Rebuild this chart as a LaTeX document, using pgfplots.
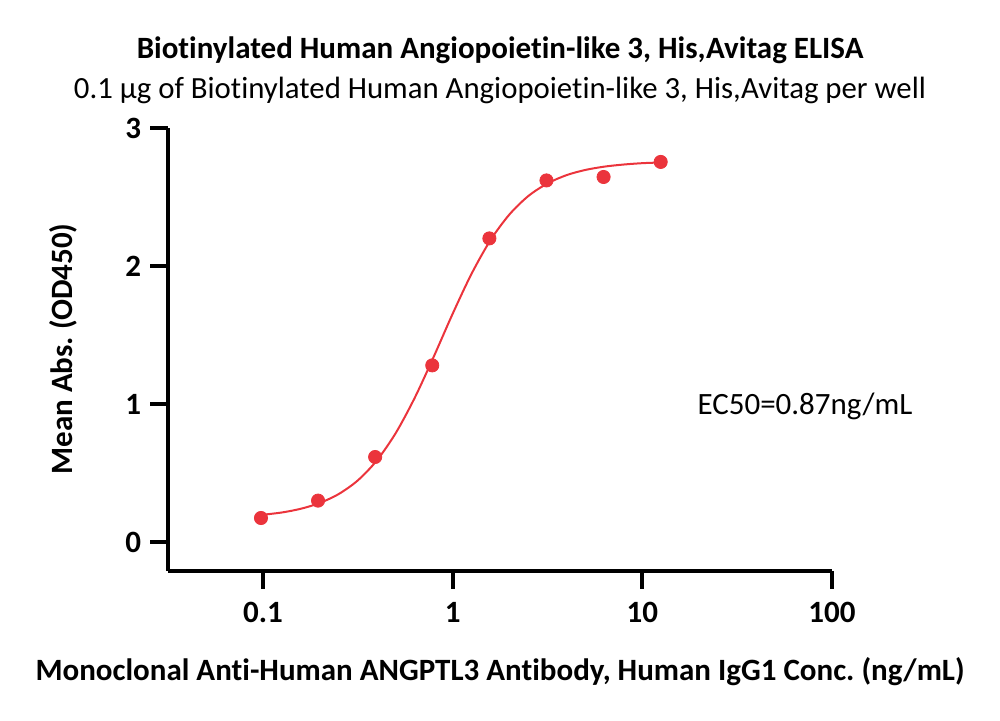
\documentclass[border=0pt]{standalone}
\usepackage{pgfplots}
\pgfplotsset{compat=1.18}
\usepackage{fontspec}
\setmainfont[Ligatures={NoCommon}]{Carlito}
\definecolor{ptred}{RGB}{235,52,60}
\frenchspacing
\begin{document}
\begin{tikzpicture}[x=1pt,y=1pt]
\useasboundingbox (0,0) rectangle (500,360.5);
\node[font=\fontsize{15.5}{18}\selectfont\bfseries] at (250,335.5) {Biotinylated Human Angiopoietin-like 3, His,Avitag ELISA};
\node[font=\fontsize{15.4}{18}\selectfont] at (250,315.5) {0.1 µg of Biotinylated Human Angiopoietin-like 3, His,Avitag per well};
\node[font=\fontsize{15.5}{18}\selectfont\bfseries] at (250,24.5) {Monoclonal Anti-Human ANGPTL3 Antibody, Human IgG1 Conc. (ng/mL)};
\node[font=\fontsize{15.5}{18}\selectfont\bfseries, rotate=90] at (31.5,186) {Mean Abs. (OD450)};
\begin{axis}[
  at={(84pt,75pt)}, anchor=south west,
  scale only axis, width=332pt, height=221.5pt,
  xmode=log, xmin=0.0316, xmax=100, ymin=-0.21, ymax=3,
  axis x line*=bottom, axis y line*=left,
  axis line style={line width=2pt, -},
  tick style={line width=2pt, black},
  major tick length=9pt,
  tick align=outside,
  xtick={0.1,1,10,100}, xticklabels={0.1,1,10,100},
  ytick={0,1,2,3}, yticklabels={0,1,2,3},
  xminorticks=false, yminorticks=false,
  xticklabel style={font=\fontsize{15.5}{18}\selectfont\bfseries, yshift=-3pt},
  yticklabel style={font=\fontsize{15.5}{18}\selectfont\bfseries, xshift=-1pt},
  clip=false,
]
\addplot[ptred, line width=1pt, smooth, no marks] coordinates {
(0.0977,0.196) (0.1259,0.214) (0.1585,0.241) (0.1995,0.283) (0.2512,0.348) (0.3162,0.446) (0.3981,0.590) (0.5012,0.789) (0.6310,1.044) (0.7943,1.341) (1.0,1.653) (1.2589,1.944) (1.5849,2.188) (1.9953,2.374) (2.5119,2.508) (3.1623,2.598) (3.9811,2.658) (5.0119,2.696) (6.3096,2.720) (7.9433,2.735) (10.0,2.745) (12.5,2.750)
};
\addplot[only marks, mark=*, mark size=3.3pt, ptred, mark options={draw=ptred, fill=ptred}] coordinates {
(0.0977,0.174) (0.1953,0.30) (0.3906,0.616) (0.78125,1.28) (1.5625,2.20) (3.125,2.62) (6.25,2.645) (12.5,2.754)
};
\node[font=\fontsize{15.5}{18}\selectfont, anchor=center] at (axis cs:72,0.98) {EC50=0.87ng/mL};
\end{axis}
\end{tikzpicture}
\end{document}
